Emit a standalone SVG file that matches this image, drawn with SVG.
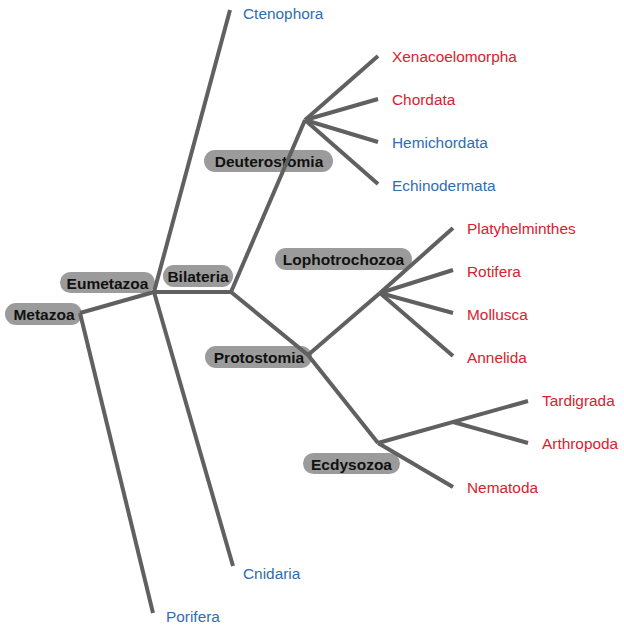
<svg xmlns="http://www.w3.org/2000/svg" width="624" height="628" viewBox="0 0 624 628">
<style>
.pill{fill:#9b9b9b}
.nl{font-family:"Liberation Sans",Arial,sans-serif;font-size:15.5px;font-weight:bold;fill:#111;text-anchor:middle}
.leaf{font-family:"Liberation Sans",Arial,sans-serif;font-size:15.4px}
.r{fill:#d8222e}
.b{fill:#2f6db3}
#connectors line{stroke:#606060;stroke-width:4;stroke-linecap:butt}
</style>
<rect width="624" height="628" fill="#fff"/>
<g id="node-metazoa"><rect class="pill" x="5" y="303" width="77" height="22" rx="11"/><text class="nl" x="44" y="320">Metazoa</text></g>
<g id="node-eumetazoa"><rect class="pill" x="60" y="272" width="95" height="21" rx="10.5"/><text class="nl" x="107.5" y="288.5">Eumetazoa</text></g>
<g id="node-bilateria"><rect class="pill" x="163" y="265" width="70" height="22" rx="11"/><text class="nl" x="198" y="282">Bilateria</text></g>
<g id="node-deuterostomia"><rect class="pill" x="204" y="150" width="129" height="22" rx="11"/><text class="nl" x="269" y="167">Deuterostomia</text></g>
<g id="node-lophotrochozoa"><rect class="pill" x="275" y="248" width="137" height="22" rx="11"/><text class="nl" x="343.5" y="265">Lophotrochozoa</text></g>
<g id="node-protostomia"><rect class="pill" x="205" y="346" width="107" height="22" rx="11"/><text class="nl" x="259" y="363">Protostomia</text></g>
<g id="node-ecdysozoa"><rect class="pill" x="303" y="453" width="97" height="21" rx="10.5"/><text class="nl" x="351.5" y="469.5">Ecdysozoa</text></g>
<g id="connectors">
<line x1="80" y1="313" x2="154" y2="292"/>
<line x1="80" y1="313" x2="153" y2="613"/>
<line x1="154" y1="292" x2="230" y2="10"/>
<line x1="154" y1="292" x2="231" y2="292"/>
<line x1="154" y1="292" x2="233" y2="566"/>
<line x1="231" y1="292" x2="305" y2="120"/>
<line x1="231" y1="292" x2="308" y2="355"/>
<line x1="305" y1="120" x2="378" y2="56"/>
<line x1="305" y1="120" x2="378" y2="99"/>
<line x1="305" y1="120" x2="378" y2="142"/>
<line x1="305" y1="120" x2="378" y2="184"/>
<line x1="308" y1="355" x2="380" y2="293"/>
<line x1="308" y1="355" x2="378" y2="443"/>
<line x1="380" y1="293" x2="453" y2="228"/>
<line x1="380" y1="293" x2="453" y2="270"/>
<line x1="380" y1="293" x2="453" y2="313"/>
<line x1="380" y1="293" x2="453" y2="356"/>
<line x1="378" y1="443" x2="528" y2="401"/>
<line x1="453" y1="422" x2="528" y2="443"/>
<line x1="378" y1="443" x2="453" y2="487"/>
</g>
<g id="leaf-labels">
<text class="leaf b" x="243" y="19">Ctenophora</text>
<text class="leaf r" x="392" y="61.5">Xenacoelomorpha</text>
<text class="leaf r" x="392" y="104.5">Chordata</text>
<text class="leaf b" x="392" y="147.5">Hemichordata</text>
<text class="leaf b" x="392" y="190.5">Echinodermata</text>
<text class="leaf r" x="467" y="233.5">Platyhelminthes</text>
<text class="leaf r" x="467" y="276.5">Rotifera</text>
<text class="leaf r" x="467" y="319.5">Mollusca</text>
<text class="leaf r" x="467" y="362.5">Annelida</text>
<text class="leaf r" x="542" y="405.5">Tardigrada</text>
<text class="leaf r" x="542" y="448.5">Arthropoda</text>
<text class="leaf r" x="467" y="492.5">Nematoda</text>
<text class="leaf b" x="243" y="578.5">Cnidaria</text>
<text class="leaf b" x="166" y="621.5">Porifera</text>
</g>
</svg>
